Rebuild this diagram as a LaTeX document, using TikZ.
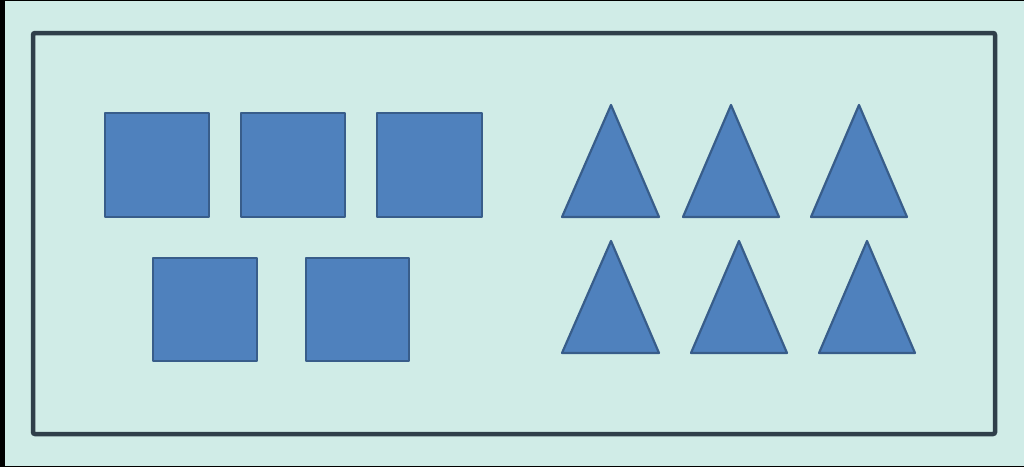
\documentclass[tikz,border=0pt]{standalone}
\definecolor{bgteal}{HTML}{D0ECE7}
\definecolor{framec}{HTML}{2F3F4A}
\definecolor{shapefill}{HTML}{4F81BD}
\definecolor{shapeedge}{HTML}{385D8A}
\begin{document}
\begin{tikzpicture}[x=1pt,y=-1pt,
  shp/.style={fill=shapefill,draw=shapeedge,line width=2.2pt,line join=round},
  frm/.style={draw=framec,line width=4.5pt,rounded corners=2pt}]
\useasboundingbox (0,0) rectangle (1024,467);
\fill[black] (0,0) rectangle (1024,467);
\fill[bgteal] (5,1) rectangle (1024,466);
\draw[frm] (33,33) rectangle (995,434);
% squares
\draw[shp] (105,113) rectangle (209,217);
\draw[shp] (241,113) rectangle (345,217);
\draw[shp] (377,113) rectangle (482,217);
\draw[shp] (153,258) rectangle (257,361);
\draw[shp] (306,258) rectangle (409,361);
% triangles
\draw[shp] (611,105) -- (659,217) -- (562,217) -- cycle;
\draw[shp] (731,105) -- (779,217) -- (683,217) -- cycle;
\draw[shp] (859,105) -- (907,217) -- (811,217) -- cycle;
\draw[shp] (611,241) -- (659,353) -- (562,353) -- cycle;
\draw[shp] (739,241) -- (787,353) -- (691,353) -- cycle;
\draw[shp] (867,241) -- (915,353) -- (819,353) -- cycle;
\end{tikzpicture}
\end{document}
